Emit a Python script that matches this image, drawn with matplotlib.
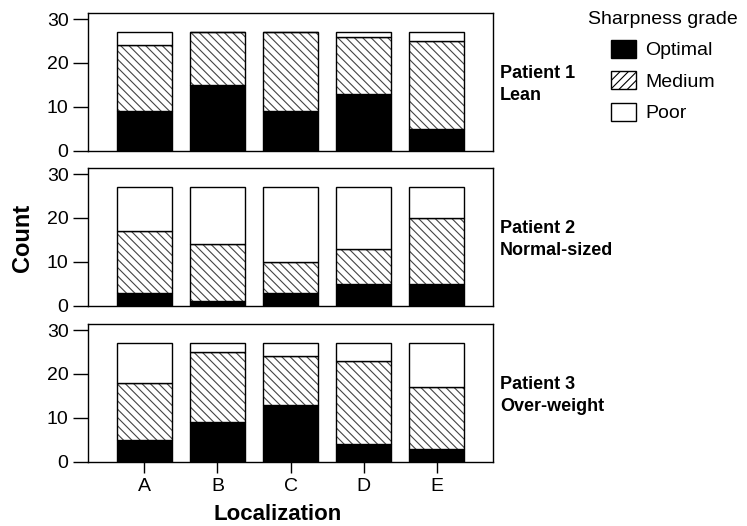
import matplotlib
matplotlib.use("Agg")
import matplotlib.pyplot as plt
from matplotlib.patches import Patch
import numpy as np

plt.rcParams['font.family'] = ['Liberation Sans', 'DejaVu Sans']
plt.rcParams['hatch.linewidth'] = 0.8

localizations = ["A", "B", "C", "D", "E"]
grades = ["Optimal", "Medium", "Poor"]
patients = ["Patient 1\nLean", "Patient 2\nNormal-sized", "Patient 3\nOver-weight"]

p1_optimal = [9, 15, 9, 13, 5]
p1_medium = [15, 12, 18, 13, 20]
p1_poor = [3, 0, 0, 1, 2]

p2_optimal = [3, 1, 3, 5, 5]
p2_medium = [14, 13, 7, 8, 15]
p2_poor = [10, 13, 17, 14, 7]

p3_optimal = [5, 9, 13, 4, 3]
p3_medium = [13, 16, 11, 19, 14]
p3_poor = [9, 2, 3, 4, 10]

data = [
    (p1_optimal, p1_medium, p1_poor),
    (p2_optimal, p2_medium, p2_poor),
    (p3_optimal, p3_medium, p3_poor),
]

W, H = 747, 526
fig = plt.figure(figsize=(W / 100, H / 100), dpi=100)

panel_px = [(13, 150.7), (168, 305.7), (324, 461.7)]
left_px, right_px = 88, 493
x = np.arange(len(localizations))
bw = 0.75

for i, ((top, bot), (opt, med, poor), label) in enumerate(zip(panel_px, data, patients)):
    ax = fig.add_axes([left_px / W, 1 - bot / H, (right_px - left_px) / W, (bot - top) / H])
    opt = np.array(opt); med = np.array(med); poor = np.array(poor)
    ax.bar(x, opt, bw, color="black", edgecolor="black", linewidth=1)
    ax.bar(x, med, bw, bottom=opt, color="white", edgecolor="#444444", linewidth=0, hatch="\\\\\\\\")
    ax.bar(x, med, bw, bottom=opt, fill=False, edgecolor="black", linewidth=1)
    ax.bar(x, poor, bw, bottom=opt + med, color="white", edgecolor="black", linewidth=1)
    ax.set_xlim(-0.77, 4.77)
    ax.set_ylim(0, 31.4)
    ax.set_yticks([0, 10, 20, 30])
    ax.tick_params(axis="y", direction="out", length=11, width=1, labelsize=14, pad=3)
    for s in ax.spines.values():
        s.set_linewidth(1)
    ax.text(7 / (right_px - left_px) + 1.0, 0.48, label, transform=ax.transAxes,
            fontsize=13, fontweight="bold", va="center", ha="left", linespacing=1.35)
    if i < 2:
        ax.set_xticks([])
    else:
        ax.set_xticks(x)
        ax.set_xticklabels(localizations)
        ax.tick_params(axis="x", direction="out", length=8, width=1, labelsize=14, pad=4)

fig.text(278 / W, 1 - 515 / H, "Localization", fontsize=16, fontweight="bold",
         ha="center", va="center")
fig.text(22 / W, 1 - 238 / H, "Count", rotation=90, fontsize=17, fontweight="bold",
         ha="center", va="center")

handles = [
    Patch(facecolor="black", edgecolor="black", label=grades[0]),
    Patch(facecolor="white", edgecolor="black", hatch="////", label=grades[1]),
    Patch(facecolor="white", edgecolor="black", label=grades[2]),
]
leg = fig.legend(handles=handles, title="Sharpness grade", loc="upper left",
                 bbox_to_anchor=(588 / W, 1 - 11 / H), frameon=False, fontsize=14,
                 title_fontsize=14, handlelength=1.3, handleheight=1.07,
                 labelspacing=0.6, handletextpad=0.46, borderaxespad=0, borderpad=0)

fig.savefig("out.png", dpi=100)
